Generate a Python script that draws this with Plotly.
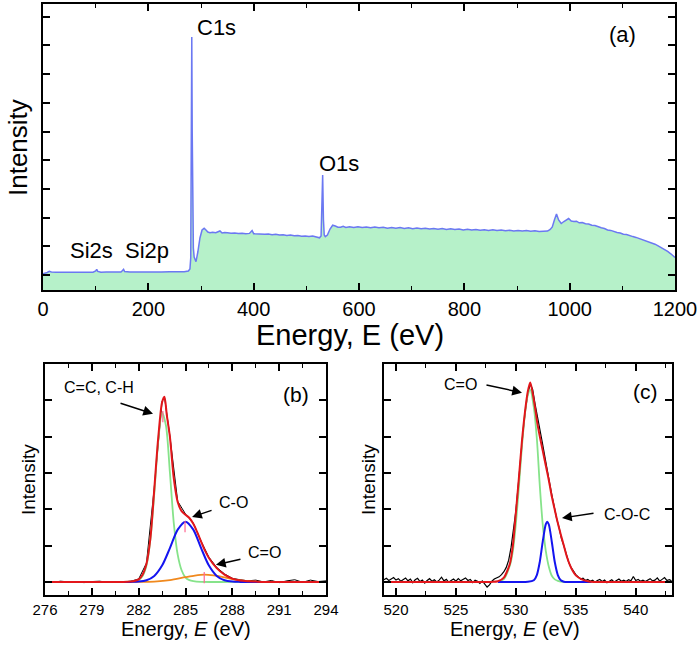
import plotly.graph_objects as go

# ---------------- Panel (a): survey spectrum ----------------
survey_energy = [
    0, 4, 8, 12, 16, 25, 35, 45, 55, 65,
    75, 85, 95, 100, 102, 104, 110, 120, 130, 140,
    148, 151, 153, 155, 165, 180, 195, 210, 225, 240,
    255, 268, 276, 279, 280.5, 281.8, 282.5, 283.3, 284.3, 285.5,
    287, 289, 290.5, 294, 298, 302, 306, 309, 313, 317,
    322, 328, 333, 336, 340, 345, 350, 357, 364, 371,
    378, 385, 392, 397, 400, 407, 414, 421, 428, 435,
    442, 449, 456, 463, 470, 477, 484, 491, 498, 505,
    512, 519, 525, 528, 529.5, 531, 532.5, 534, 536, 540,
    545, 550, 555, 560, 565, 570, 575, 582, 590, 598,
    606, 614, 622, 630, 638, 646, 654, 662, 670, 678,
    686, 694, 702, 710, 718, 726, 734, 742, 750, 758,
    766, 774, 782, 790, 798, 806, 814, 822, 830, 838,
    846, 854, 862, 870, 878, 886, 894, 902, 910, 918,
    926, 934, 942, 950, 958, 963, 967, 971, 975, 979,
    984, 989, 994, 998, 1003, 1008, 1013, 1018, 1024, 1030,
    1036, 1042, 1048, 1054, 1060, 1066, 1072, 1078, 1084, 1090,
    1096, 1102, 1108, 1114, 1120, 1126, 1132, 1138, 1144, 1150,
    1156, 1162, 1168, 1174, 1180, 1186, 1192, 1197, 1200,
]
survey_intensity = [
    16.3, 16.8, 17.5, 18.6, 18.0, 17.8, 17.6, 17.9, 17.7, 17.8,
    17.6, 17.9, 17.8, 19.0, 20.7, 18.6, 17.8, 17.9, 17.7, 18.0,
    17.9, 19.5, 20.7, 18.5, 18.0, 18.1, 17.9, 18.1, 18.0, 18.2,
    18.1, 18.3, 19.0, 21.0, 32.0, 150.0, 253.0, 160.0, 70.0, 42.0,
    33.0, 29.5, 28.3, 38.0, 52.0, 60.0, 61.7, 60.2, 58.0, 57.3,
    57.8, 57.2, 57.9, 59.0, 57.0, 57.6, 57.3, 56.7, 57.1, 56.5,
    56.8, 56.2, 56.6, 59.5, 56.3, 56.0, 56.4, 55.7, 55.9, 55.3,
    55.8, 54.9, 55.2, 54.6, 54.9, 54.2, 54.5, 53.8, 54.1, 53.5,
    53.9, 53.2, 52.2, 54.0, 80.0, 115.0, 70.0, 55.0, 53.3, 55.0,
    61.0, 64.8, 64.0, 62.8, 62.7, 63.8, 62.6, 63.3, 62.4, 63.2,
    62.5, 63.0, 62.2, 62.9, 62.3, 62.8, 61.8, 62.5, 61.7, 62.4,
    61.6, 62.2, 61.3, 61.9, 61.2, 61.8, 61.0, 61.6, 60.8, 61.4,
    60.6, 61.2, 60.4, 60.9, 60.1, 60.7, 59.9, 60.5, 59.8, 60.3,
    59.6, 60.2, 59.4, 59.9, 59.3, 59.8, 59.1, 59.6, 59.0, 59.5,
    58.8, 59.3, 58.6, 59.1, 58.9, 60.5, 63.0, 70.0, 76.0, 70.0,
    66.5, 68.5, 70.5, 71.5, 69.0, 68.5, 68.8, 67.2, 67.5, 66.3,
    66.0, 64.8, 64.5, 63.0, 62.2, 61.5, 60.1, 59.6, 58.3, 57.6,
    57.0, 55.8, 55.5, 54.2, 53.4, 52.6, 51.5, 50.7, 49.6, 48.5,
    47.1, 45.8, 44.2, 42.6, 40.8, 38.6, 36.2, 33.5, 32.5,
]
survey_labels = ["C1s", "O1s", "Si2s", "Si2p"]
survey_label_x = [330, 562, 93, 197]
survey_label_y = [262, 127, 40, 40]

# ---------------- Panel (b): C1s ----------------
b_data_E = [276, 276.5, 277, 277.5, 278, 278.5, 279, 279.5, 280, 280.5,
            281, 281.5, 282, 282.5, 283, 283.5, 283.65, 284, 284.5, 285,
            285.5, 286, 286.5, 287, 287.5, 288, 288.5, 289, 289.5, 290,
            290.5, 291, 291.5, 292, 292.5, 293, 293.5, 294]
b_data_I = [0.01, -0.01, 0.02, 0.0, 0.01, -0.02, 0.01, 0.02, -0.01, 0.01,
            0.0, 0.02, 0.08, 0.52, 2.6, 4.97, 5.1, 4.02, 2.22, 1.87,
            1.62, 1.12, 0.68, 0.4, 0.22, 0.1, 0.06, 0.03, 0.05, 0.0,
            0.04, -0.02, 0.03, 0.06, -0.01, 0.05, 0.01, 0.03]

b_green_E = [276, 279, 281, 281.5, 281.75, 282.0, 282.25, 282.5, 282.75, 283.0,
             283.25, 283.5, 283.75, 284.0, 284.25, 284.5, 284.75, 285.0, 285.25, 285.5,
             286, 288, 294]
b_green_I = [0, 0, 0, 0.005, 0.02, 0.05, 0.16, 0.45, 1.17, 2.43,
             3.86, 4.67, 4.30, 3.02, 1.62, 0.75, 0.32, 0.12, 0.05, 0.02,
             0.0, 0, 0]

b_blue_E = [276, 280, 281.5, 282.0, 282.5, 283.0, 283.5, 284.0, 284.5, 285.0,
            285.5, 286.0, 286.5, 287.0, 287.5, 288.0, 288.5, 289.5, 294]
b_blue_I = [0, 0, 0.001, 0.009, 0.045, 0.165, 0.45, 0.93, 1.44, 1.66,
            1.44, 0.93, 0.45, 0.165, 0.045, 0.009, 0.001, 0, 0]

b_orange_E = [276, 280, 282, 283, 284, 285, 285.6, 286.2, 286.8, 287.4,
              288, 289, 290, 291, 294]
b_orange_I = [0, 0, 0.001, 0.01, 0.048, 0.13, 0.175, 0.2, 0.18, 0.135,
              0.077, 0.02, 0.003, 0, 0]

b_red_E = [276, 279, 281, 281.5, 281.75, 282.0, 282.25, 282.5, 282.75, 283.0,
           283.25, 283.5, 283.65, 283.8, 284.0, 284.25, 284.5, 284.75, 285.0, 285.25,
           285.5, 285.75, 286.0, 286.25, 286.5, 287.0, 287.5, 288.0, 288.5, 289.0,
           289.5, 290, 292, 294]
b_red_I = [0, 0, 0, 0.01, 0.03, 0.07, 0.2, 0.5, 1.2, 2.55,
           3.95, 4.95, 5.1, 4.6, 4.0, 2.85, 2.2, 1.95, 1.85, 1.76,
           1.6, 1.37, 1.11, 0.86, 0.66, 0.38, 0.2, 0.09, 0.04, 0.02,
           0.01, 0, 0, 0]

b_centers_E = [283.55, 284.97, 286.2]
b_centers_I = [4.55, 1.52, 0.12]

b_labels = ["C=C, C-H", "C-O", "C=O"]
b_label_x = [279.46, 288.1, 290.09]
b_label_y = [5.34, 2.18, 0.80]
b_arrow_x = [282.92, 285.42, 286.95]
b_arrow_y = [4.63, 1.79, 0.47]

# ---------------- Panel (c): O1s ----------------
c_data_E = [round(519 + 0.2 * i, 1) for i in range(121)]
c_data_I = [
    0.06, 0.10, 0.04, 0.08, 0.12, 0.05, 0.09, 0.02, 0.07, 0.11,
    0.03, 0.08, -0.02, 0.06, 0.10, 0.01, 0.05, -0.03, 0.04, 0.09,
    0.02, 0.06, 0.00, 0.05, 0.13, 0.03, 0.07, -0.01, 0.04, 0.08,
    0.02, 0.09, 0.03, 0.06, 0.11, 0.04, 0.07, -0.02, 0.05, 0.02,
    -0.04, 0.03, -0.06, -0.14, -0.08, 0.02, 0.08, 0.10, 0.14, 0.2,
    0.28, 0.4, 0.6, 0.95, 1.4, 1.95, 2.65, 3.45, 4.15, 4.75,
    5.2, 5.45, 5.3, 4.9, 4.5, 4.2, 3.85, 3.45, 3.05, 2.75,
    2.4, 2.05, 1.75, 1.5, 1.2, 1.0, 0.75, 0.55, 0.4, 0.28,
    0.2, 0.14, 0.08, 0.1, 0.04, 0.07, 0.02, 0.05, -0.01, 0.04,
    0.07, 0.01, 0.05, -0.02, 0.03, 0.06, 0.0, 0.04, 0.08, 0.02,
    0.05, 0.01, 0.06, 0.03, 0.15, 0.04, 0.07, 0.02, 0.05, 0.01,
    0.06, 0.09, 0.03, 0.05, 0.11, 0.02, 0.07, 0.12, 0.04, 0.06,
    0.03,
]

c_green_E = [528.5, 529.0, 529.5, 529.75, 530.0, 530.25, 530.5, 530.75, 531.0, 531.2,
             531.5, 531.75, 532.0, 532.25, 532.5, 532.75, 533.0, 533.25, 533.5, 534.0,
             536.3]
c_green_I = [0.01, 0.08, 0.45, 0.85, 1.6, 2.6, 3.7, 4.6, 5.15, 5.29,
             4.8, 3.95, 2.63, 1.55, 0.85, 0.42, 0.17, 0.07, 0.03, 0.0,
             0.0]

c_blue_E = [528.5, 530.5, 531.0, 531.5, 531.75, 532.0, 532.25, 532.5, 532.62, 532.75,
            533.0, 533.25, 533.5, 533.75, 534.0, 534.5, 536.3]
c_blue_I = [0, 0, 0.002, 0.047, 0.19, 0.56, 1.13, 1.59, 1.66, 1.58,
            1.10, 0.54, 0.19, 0.044, 0.007, 0, 0]

c_red_E = [519, 526, 528, 528.5, 529.0, 529.25, 529.5, 529.75, 530.0, 530.25,
           530.5, 530.75, 531.0, 531.2, 531.4, 531.6, 531.8, 532.0, 532.25, 532.5,
           532.75, 533.0, 533.25, 533.5, 533.75, 534.0, 534.25, 534.5, 534.75, 535.0,
           535.5, 536.0, 536.5, 538, 543]
c_red_I = [0, 0, 0, 0.02, 0.12, 0.28, 0.5, 1.0, 1.9, 2.85,
           3.85, 4.65, 5.25, 5.49, 5.2, 4.8, 4.35, 4.0, 3.6, 3.2,
           2.8, 2.35, 1.98, 1.62, 1.3, 1.0, 0.7, 0.47, 0.3, 0.18,
           0.07, 0.02, 0, 0, 0]

c_labels = ["C=O", "C-O-C"]
c_label_x = [525.42, 539.27]
c_label_y = [5.43, 1.85]
c_arrow_x = [530.51, 533.85]
c_arrow_y = [5.21, 1.76]

# ---------------- styling ----------------
FONT = "Liberation Sans, Arial, sans-serif"
W, H = 700, 647
RED = "#e3161b"
GREEN = "#86e38a"
BLUE = "#1414f0"
ORANGE = "#f0891e"

fig = go.Figure()

# (a)
fig.add_trace(go.Scatter(x=survey_energy, y=survey_intensity, mode="lines",
                         line=dict(color="#6b78f2", width=1.5),
                         fill="tozeroy", fillcolor="#b6f1c9",
                         xaxis="x", yaxis="y", showlegend=False))

# (b)
fig.add_trace(go.Scatter(x=b_data_E, y=b_data_I, mode="lines",
                         line=dict(color="black", width=1),
                         xaxis="x2", yaxis="y2", showlegend=False))
fig.add_trace(go.Scatter(x=b_green_E, y=b_green_I, mode="lines",
                         line=dict(color=GREEN, width=1.8, shape="spline", smoothing=0.8),
                         xaxis="x2", yaxis="y2", showlegend=False))
fig.add_trace(go.Scatter(x=b_orange_E, y=b_orange_I, mode="lines",
                         line=dict(color=ORANGE, width=1.8, shape="spline", smoothing=0.8),
                         xaxis="x2", yaxis="y2", showlegend=False))
fig.add_trace(go.Scatter(x=b_blue_E, y=b_blue_I, mode="lines",
                         line=dict(color=BLUE, width=2, shape="spline", smoothing=0.8),
                         xaxis="x2", yaxis="y2", showlegend=False))
fig.add_trace(go.Scatter(x=b_red_E, y=b_red_I, mode="lines",
                         line=dict(color=RED, width=2, shape="spline", smoothing=0.8),
                         xaxis="x2", yaxis="y2", showlegend=False))
fig.add_trace(go.Scatter(x=b_centers_E, y=b_centers_I, mode="markers",
                         marker=dict(symbol="line-ns-open", size=8,
                                     line=dict(color=RED, width=1.2)),
                         xaxis="x2", yaxis="y2", showlegend=False))

# (c)
fig.add_trace(go.Scatter(x=c_data_E, y=c_data_I, mode="lines",
                         line=dict(color="black", width=1.2),
                         xaxis="x3", yaxis="y3", showlegend=False))
fig.add_trace(go.Scatter(x=c_green_E, y=c_green_I, mode="lines",
                         line=dict(color=GREEN, width=1.8, shape="spline", smoothing=0.8),
                         xaxis="x3", yaxis="y3", showlegend=False))
fig.add_trace(go.Scatter(x=c_blue_E, y=c_blue_I, mode="lines",
                         line=dict(color=BLUE, width=2, shape="spline", smoothing=0.8),
                         xaxis="x3", yaxis="y3", showlegend=False))
fig.add_trace(go.Scatter(x=c_red_E, y=c_red_I, mode="lines",
                         line=dict(color=RED, width=2, shape="spline", smoothing=0.8),
                         xaxis="x3", yaxis="y3", showlegend=False))


def axis(domain, anchor, rng, tickfont_size, **kw):
    d = dict(domain=domain, anchor=anchor, range=rng, automargin=False,
             showline=True, linecolor="black", linewidth=2, mirror="allticks",
             ticks="inside", ticklen=7, tickwidth=1.5, tickcolor="black",
             showgrid=False, zeroline=False,
             tickfont=dict(family=FONT, size=tickfont_size, color="black"))
    d.update(kw)
    return d


def px_x(p):
    return p / W


def px_y(p):
    return 1 - p / H


def minor_x(dt):
    return dict(dtick=dt, ticks="inside", ticklen=4, tickwidth=1.2, tickcolor="black")


layout = dict(
    width=W, height=H, margin=dict(l=0, r=0, t=0, b=0, pad=0, autoexpand=False),
    paper_bgcolor="white", plot_bgcolor="white",
    xaxis=axis([px_x(43), px_x(675)], "y", [0, 1200], 20,
               tickmode="linear", tick0=0, dtick=200, minor=minor_x(100)),
    yaxis=axis([px_y(290), px_y(4)], "x", [0, 286], 19,
               tickmode="linear", tick0=15, dtick=28.7, showticklabels=False),
    xaxis2=axis([px_x(45), px_x(326)], "y2", [276, 294], 15,
                tickmode="linear", tick0=276, dtick=3, minor=minor_x(1.5)),
    yaxis2=axis([px_y(595), px_y(364)], "x2", [-0.36, 6.0], 14,
                tickmode="linear", tick0=0, dtick=1, showticklabels=False),
    xaxis3=axis([px_x(384), px_x(671.7)], "y3", [519, 543], 15,
                tickmode="linear", tick0=520, dtick=5, minor=minor_x(2.5)),
    yaxis3=axis([px_y(595), px_y(364)], "x3", [-0.36, 6.0], 14,
                tickmode="linear", tick0=0, dtick=1, showticklabels=False),
)


def label(x, y, xref, yref, text, size, **kw):
    d = dict(x=x, y=y, xref=xref, yref=yref, text=text, showarrow=False,
             xanchor="center", yanchor="middle",
             font=dict(family=FONT, size=size, color="black"))
    d.update(kw)
    return d


annotations = []
# panel (a) peak labels
for t, x, y in zip(survey_labels, survey_label_x, survey_label_y):
    annotations.append(label(x, y, "x", "y", t, 22))
annotations.append(label(1101, 255, "x", "y", "(a)", 22))
# panel (b)
for t, x, y in zip(b_labels, b_label_x, b_label_y):
    annotations.append(label(x, y, "x2", "y2", t, 16))
offsets_b = [(-34, -11), (21, -7), (26, -6)]
for (ax_, ay_), x, y in zip(offsets_b, b_arrow_x, b_arrow_y):
    annotations.append(dict(x=x, y=y, xref="x2", yref="y2", text="", showarrow=True,
                            ax=ax_, ay=ay_, arrowhead=2, arrowsize=1.3, arrowwidth=1.5,
                            arrowcolor="black"))
annotations.append(label(292.08, 5.15, "x2", "y2", "(b)", 21))
# panel (c)
for t, x, y in zip(c_labels, c_label_x, c_label_y):
    annotations.append(label(x, y, "x3", "y3", t, 16))
offsets_c = [(-37, -8), (33, -5)]
for (ax_, ay_), x, y in zip(offsets_c, c_arrow_x, c_arrow_y):
    annotations.append(dict(x=x, y=y, xref="x3", yref="y3", text="", showarrow=True,
                            ax=ax_, ay=ay_, arrowhead=2, arrowsize=1.3, arrowwidth=1.5,
                            arrowcolor="black"))
annotations.append(label(540.85, 5.23, "x3", "y3", "(c)", 21))

# axis titles
annotations += [
    label(px_x(18), px_y(148), "paper", "paper", "Intensity", 26, textangle=-90),
    label(px_x(350), px_y(335), "paper", "paper", "Energy, E (eV)", 29),
    label(px_x(28), px_y(480), "paper", "paper", "Intensity", 19, textangle=-90),
    label(px_x(186), px_y(629), "paper", "paper", "Energy, <i>E</i> (eV)", 20),
    label(px_x(368), px_y(480), "paper", "paper", "Intensity", 19, textangle=-90),
    label(px_x(515), px_y(629), "paper", "paper", "Energy, <i>E</i> (eV)", 20),
]
layout["annotations"] = annotations
fig.update_layout(**layout)

fig.write_html("out.html")
